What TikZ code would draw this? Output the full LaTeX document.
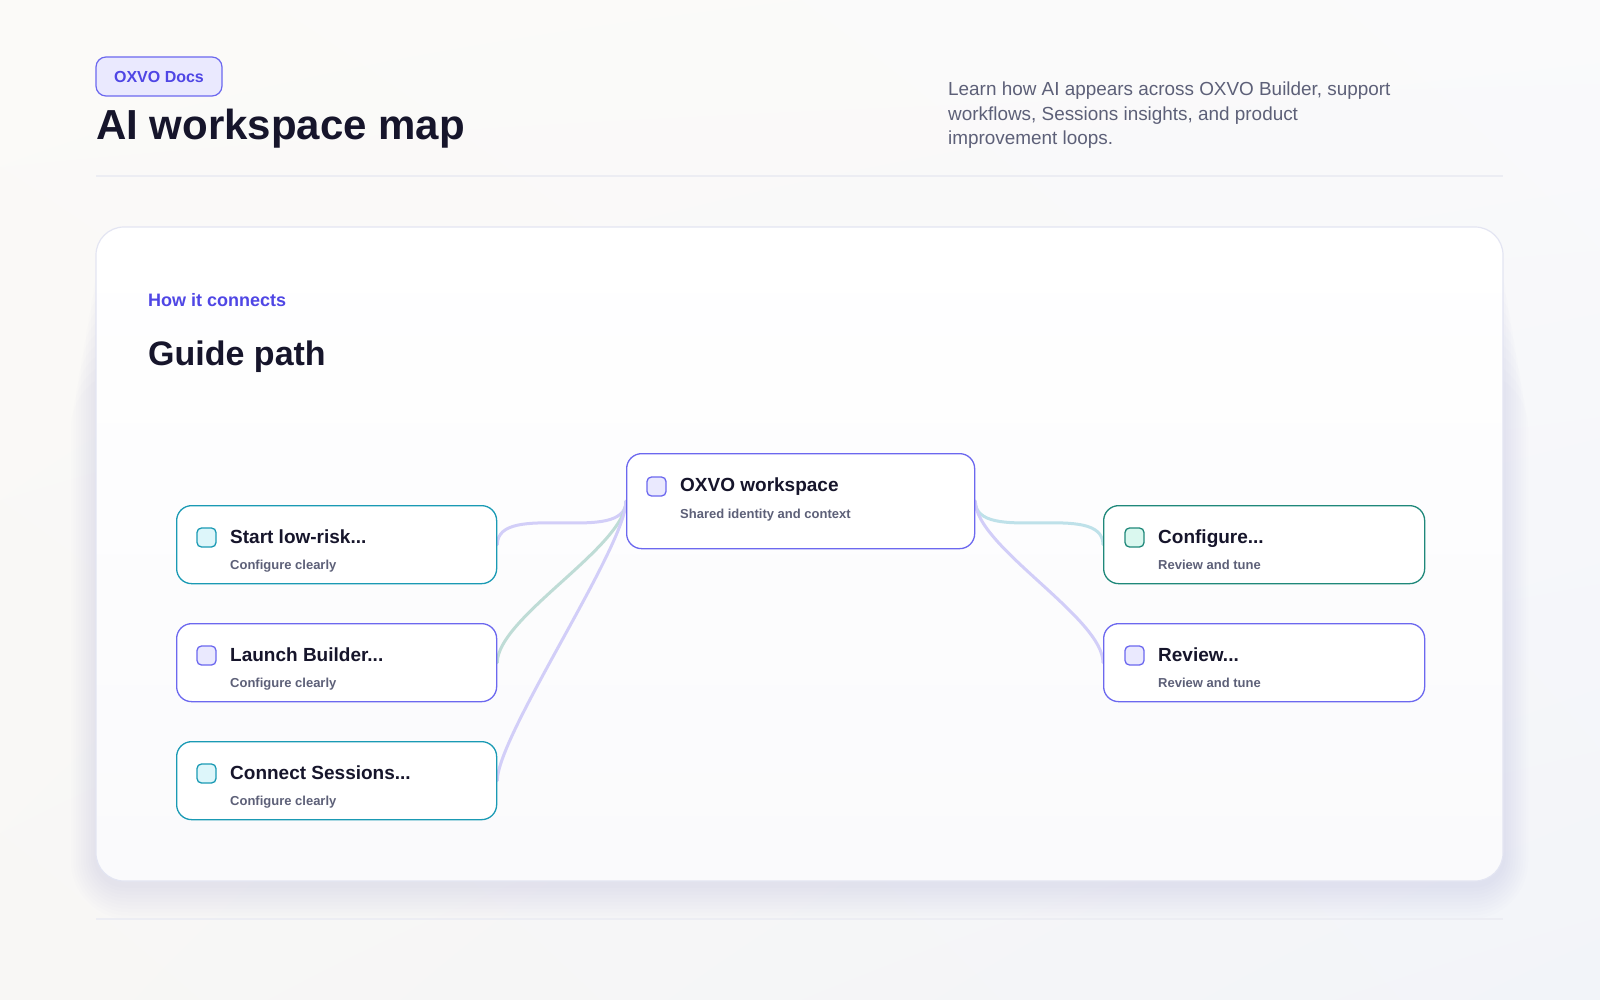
\documentclass[tikz,border=0pt]{standalone}
\usepackage{fontspec}
\setmainfont{Liberation Sans}
\usepackage{tikz}
\usetikzlibrary{positioning, backgrounds, shadings}
\usepackage{xcolor}

\definecolor{ink}{HTML}{16152B}
\definecolor{mutedtext}{HTML}{5D6078}
\definecolor{brand}{HTML}{4F46E5}
\definecolor{indigoline}{HTML}{6C68EF}
\definecolor{indigofill}{HTML}{EAE9FE}
\definecolor{cyanline}{HTML}{1A9AB4}
\definecolor{cyanfill}{HTML}{DDF6FA}
\definecolor{tealline}{HTML}{1F887A}
\definecolor{tealfill}{HTML}{DAF8EF}
\definecolor{linklav}{HTML}{D2CEF8}
\definecolor{linksage}{HTML}{BFDCD6}
\definecolor{linkcyan}{HTML}{BEE1E9}
\definecolor{rulegray}{HTML}{ECEDF3}
\definecolor{cardline}{HTML}{E3E5F2}
\definecolor{cardbottom}{HTML}{FAFAFC}
\definecolor{shadowtint}{HTML}{B9BCD8}
\definecolor{bgtl}{HTML}{FBFAF8}
\definecolor{bgtr}{HTML}{FAFAFB}
\definecolor{bgbl}{HTML}{F8F7F5}
\definecolor{bgbr}{HTML}{F2F4F9}

\begin{document}
\begin{tikzpicture}[
  x=1pt, y=-1pt,
  node distance=38.7pt,
  every node/.style={inner sep=0pt},
  stepcard/.style={rectangle, rounded corners=15pt, draw, fill=white, line width=1.3pt,
    minimum width=320pt, minimum height=78pt, anchor=north west},
  icon/.style={rectangle, rounded corners=4.5pt, minimum size=19pt, line width=1.3pt, draw},
  cardtitle/.style={anchor=base west, text=ink, font=\fontsize{19}{23}\selectfont\bfseries},
  cardsub/.style={anchor=base west, text=mutedtext, font=\fontsize{13}{16}\selectfont\bfseries},
  link/.style={line width=3pt, line cap=round},
  badge/.style={rectangle, rounded corners=10pt, draw=indigoline, fill=indigofill, line width=1.2pt,
    minimum width=126pt, minimum height=39pt, text=brand, font=\fontsize{16}{19}\selectfont\bfseries}
]
  \useasboundingbox (0,0) rectangle (1600,1000);

  % --- page background, card and rules ---
  \begin{scope}[on background layer]
    \shade[upper left=bgtl, upper right=bgtr, lower left=bgbl, lower right=bgbr]
      (0,0) rectangle (1600,1000);
    \foreach \s in {1,...,10}
      \fill[shadowtint, opacity=0.028, rounded corners=28pt+\s*3pt]
        (96-\s*2.5, 250+\s*12) rectangle (1503+\s*2.5, 884+\s*3.5);
    \draw[cardline, line width=1.2pt, top color=white, bottom color=cardbottom, rounded corners=28pt]
      (96,227) rectangle (1503,881);
    \draw[rulegray, line width=1.2pt] (96,176) -- (1503,176);
    \draw[rulegray, line width=1.2pt] (96,919) -- (1503,919);
  \end{scope}

  % --- header ---
  \node[badge] (docs) at (159,76.5) {OXVO Docs};
  \node[anchor=base west, text=ink, font=\fontsize{42}{48}\selectfont\bfseries] (maptitle) at (96,140) {AI workspace map};
  \node[anchor=base west, text=mutedtext, font=\fontsize{18.9}{24.5}\selectfont] (blurb) at (948,96)
    {\parbox[t]{500pt}{\raggedright Learn how AI appears across OXVO Builder, support\\
      workflows, Sessions insights, and product\\improvement loops.}};
  \node[anchor=base west, text=brand, font=\fontsize{18}{22}\selectfont\bfseries] (kicker) at (148,306.7) {How it connects};
  \node[anchor=base west, text=ink, font=\fontsize{34}{40}\selectfont\bfseries] (guide) at (148,365) {Guide path};

  % --- hub ---
  \node[stepcard, draw=indigoline, minimum width=348pt, minimum height=95pt] (hub) at (626,453) {};
  \node[icon, draw=indigoline, fill=indigofill] (hub-i) at ([xshift=30.5pt, yshift=-33.5pt]hub.north west) {};
  \node[cardtitle] (hub-t) at ([xshift=54pt, yshift=-38.5pt]hub.north west) {OXVO workspace};
  \node[cardsub] (hub-s) at ([xshift=54pt, yshift=-65pt]hub.north west) {Shared identity and context};

  % --- left column ---
  \node[stepcard, draw=cyanline] (start) at (176,505) {};
  \node[icon, draw=cyanline, fill=cyanfill] (start-i) at ([xshift=30.5pt, yshift=-32.5pt]start.north west) {};
  \node[cardtitle] (start-t) at ([xshift=54pt, yshift=-38.5pt]start.north west) {Start low-risk...};
  \node[cardsub] (start-s) at ([xshift=54pt, yshift=-64pt]start.north west) {Configure clearly};

  \node[stepcard, draw=indigoline, below=of start] (launch) {};
  \node[icon, draw=indigoline, fill=indigofill] (launch-i) at ([xshift=30.5pt, yshift=-32.5pt]launch.north west) {};
  \node[cardtitle] (launch-t) at ([xshift=54pt, yshift=-38.5pt]launch.north west) {Launch Builder...};
  \node[cardsub] (launch-s) at ([xshift=54pt, yshift=-64pt]launch.north west) {Configure clearly};

  \node[stepcard, draw=cyanline, below=of launch] (connect) {};
  \node[icon, draw=cyanline, fill=cyanfill] (connect-i) at ([xshift=30.5pt, yshift=-32.5pt]connect.north west) {};
  \node[cardtitle] (connect-t) at ([xshift=54pt, yshift=-38.5pt]connect.north west) {Connect Sessions...};
  \node[cardsub] (connect-s) at ([xshift=54pt, yshift=-64pt]connect.north west) {Configure clearly};

  % --- right column ---
  \node[stepcard, draw=tealline, minimum width=321pt] (configure) at (1103,505) {};
  \node[icon, draw=tealline, fill=tealfill] (configure-i) at ([xshift=31.5pt, yshift=-32.5pt]configure.north west) {};
  \node[cardtitle] (configure-t) at ([xshift=55pt, yshift=-38.5pt]configure.north west) {Configure...};
  \node[cardsub] (configure-s) at ([xshift=55pt, yshift=-64pt]configure.north west) {Review and tune};

  \node[stepcard, draw=indigoline, minimum width=321pt, below=of configure] (review) {};
  \node[icon, draw=indigoline, fill=indigofill] (review-i) at ([xshift=31.5pt, yshift=-32.5pt]review.north west) {};
  \node[cardtitle] (review-t) at ([xshift=55pt, yshift=-38.5pt]review.north west) {Review...};
  \node[cardsub] (review-s) at ([xshift=55pt, yshift=-64pt]review.north west) {Review and tune};

  % --- links, under the cards ---
  \begin{scope}[on background layer]
    \draw[link, linklav]  (start.east)   .. controls +(0,-45) and +(0,45) .. (hub.west);
    \draw[link, linksage] (launch.east)  .. controls +(0,-45) and +(0,45) .. (hub.west);
    \draw[link, linklav]  (connect.east) .. controls +(0,-45) and +(0,45) .. (hub.west);
    \draw[link, linkcyan] (hub.east) .. controls +(0,45) and +(0,-45) .. (configure.west);
    \draw[link, linklav]  (hub.east) .. controls +(0,45) and +(0,-45) .. (review.west);
  \end{scope}
\end{tikzpicture}
\end{document}
